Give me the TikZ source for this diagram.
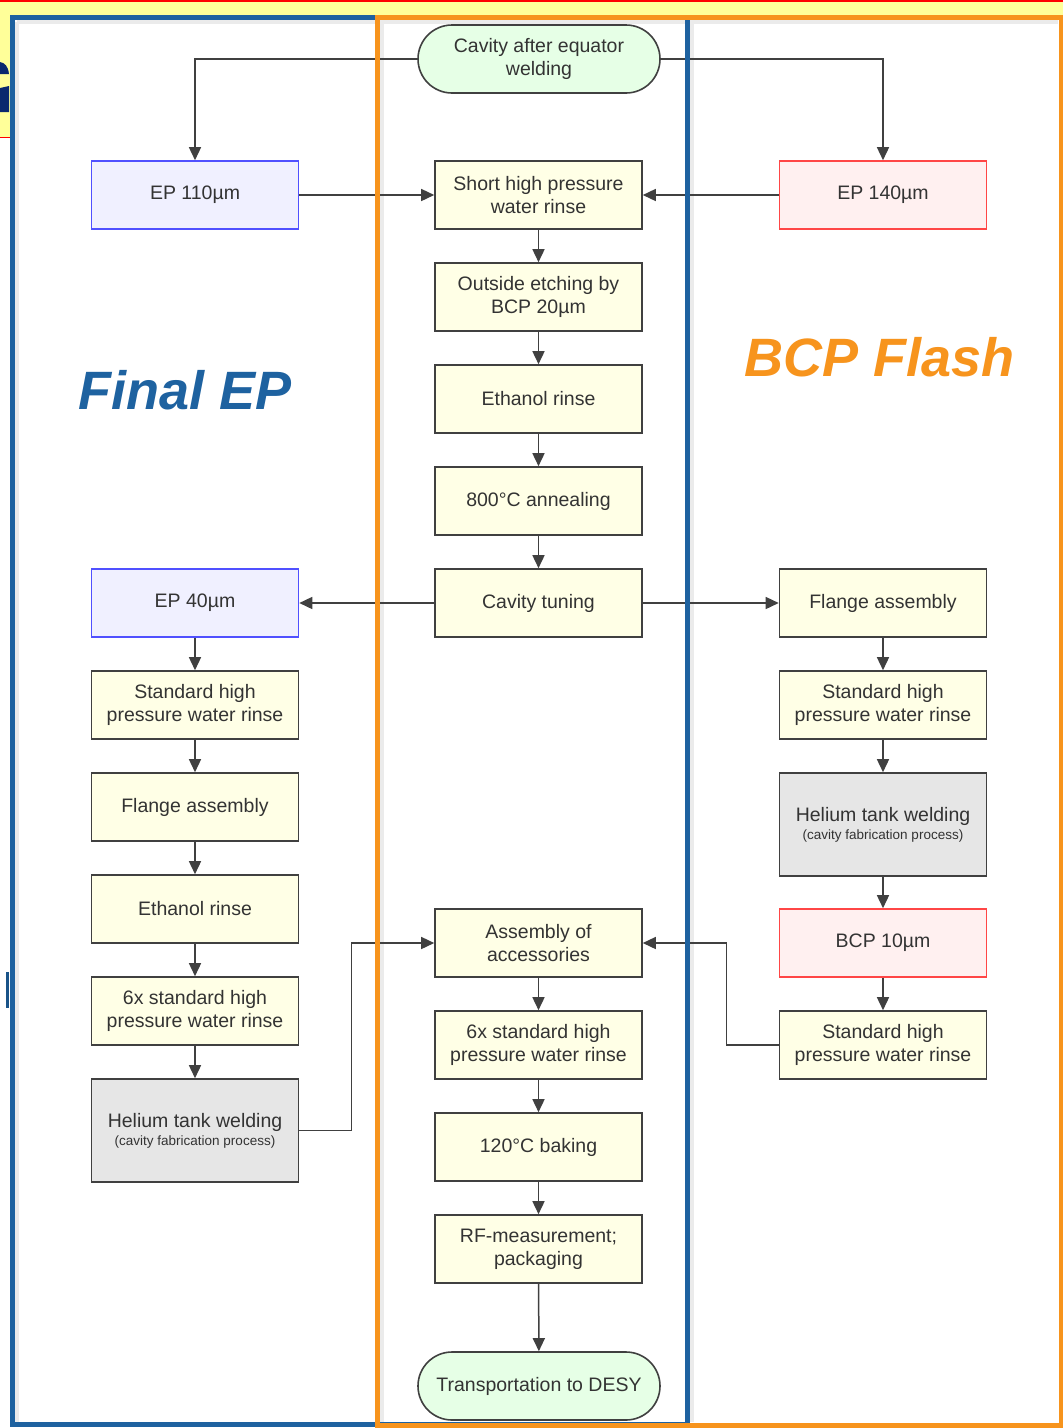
\documentclass[tikz,border=0pt]{standalone}
\usepackage{fontspec}
\setmainfont{Liberation Sans}
\usetikzlibrary{arrows.meta, positioning}

\definecolor{laneblue}{RGB}{30,98,160}
\definecolor{laneorange}{RGB}{247,148,29}
\definecolor{boxline}{RGB}{64,64,64}
\definecolor{boxtext}{RGB}{51,51,51}
\definecolor{stepfill}{RGB}{255,255,230}
\definecolor{epfill}{RGB}{240,240,255}
\definecolor{epline}{RGB}{80,80,255}
\definecolor{bcpfill}{RGB}{255,240,240}
\definecolor{bcpline}{RGB}{255,70,70}
\definecolor{weldfill}{RGB}{230,230,230}
\definecolor{termfill}{RGB}{230,255,230}
\definecolor{slideyellow}{RGB}{255,255,153}
\definecolor{slidenavy}{RGB}{10,40,110}

\newcommand{\boxfont}{\fontsize{19.5}{23}\selectfont}
\newcommand{\notefont}{\fontsize{13.5}{17}\selectfont}
\newcommand{\titlefont}{\fontsize{54}{54}\selectfont\bfseries\itshape}

\begin{document}
\begin{tikzpicture}[x=1pt, y=-1pt,
      every node/.style={text=boxtext, font=\boxfont},
      proc/.style={rectangle, draw=boxline, line width=1.6pt, fill=stepfill, minimum width=207pt, minimum height=68pt, align=center, inner sep=2pt},
      ep/.style={proc, draw=epline, fill=epfill},
      bcp/.style={proc, draw=bcpline, fill=bcpfill},
      weld/.style={proc, fill=weldfill, minimum height=103pt},
      term/.style={proc, fill=termfill, minimum width=242pt, rounded corners=34pt},
      flow/.style={-{Triangle[length=13pt, width=12pt]}, draw=boxline, line width=1.5pt},
      lane/.style={line width=5pt},
      shade/.style={black!8, line width=4pt}]

  \useasboundingbox (0,0) rectangle (1063,1428);

  % slide behind the chart
  \fill[slideyellow] (0,0) rectangle (1063,137);
  \draw[red, line width=1.5pt] (0,0.75) -- (1063,0.75);
  \draw[red, line width=1pt] (0,137) -- (14,137);
  \fill[slidenavy] (0,62) .. controls (5,63) and (8,66) .. (9,74) -- (0,74) -- cycle;
  \fill[slidenavy] (0,88) -- (9,86) -- (9,112) -- (0,112) -- cycle;
  \fill[laneblue!85!black] (6,972) rectangle (9,1008);
  \fill[white] (12,17) rectangle (1061,1425);

  % soft shadow of the lanes
  \draw[shade] (16.5,21.5) -- (16.5,1422);
  \draw[shade] (691.5,21.5) -- (691.5,1422);
  \draw[shade] (382,21.5) -- (382,1422);
  \draw[shade] (16.5,21.5) -- (1058,21.5);

  % centre column
  \node[term] (start) at (539,59) {Cavity after equator\\welding};
  \node[proc] (shortrinse) at (538.5,195) {Short high pressure\\water rinse};
  \node[proc] (outside) at (538.5,297) {Outside etching by\\BCP 20µm};
  \node[proc] (ethanol) at (538.5,399) {Ethanol rinse};
  \node[proc] (anneal) at (538.5,501) {800°C annealing};
  \node[proc] (tuning) at (538.5,603) {Cavity tuning};
  \node[proc] (accessory) at (538.5,943) {Assembly of\\accessories};
  \node[proc] (sixrinse) at (538.5,1045) {6x standard high\\pressure water rinse};
  \node[proc] (baking) at (538.5,1147) {120°C baking};
  \node[proc] (rfmeas) at (538.5,1249) {RF-measurement;\\packaging};
  \node[term] (transport) at (539,1386) {Transportation to DESY};

  % final EP column
  \node[ep] (epA) at (195,195) {EP 110µm};
  \node[ep] (epB) at (195,603) {EP 40µm};
  \node[proc] (rinseL) at (195,705) {Standard high\\pressure water rinse};
  \node[proc] (flangeL) at (195,807) {Flange assembly};
  \node[proc] (ethanolL) at (195,909) {Ethanol rinse};
  \node[proc] (sixrinseL) at (195,1011) {6x standard high\\pressure water rinse};
  \node[weld] (weldL) at (195,1130.5) {Helium tank welding\\[-5pt]{\notefont (cavity fabrication process)}};

  % BCP flash column
  \node[bcp] (epC) at (883,195) {EP 140µm};
  \node[proc] (flangeR) at (883,603) {Flange assembly};
  \node[proc] (rinseR) at (883,705) {Standard high\\pressure water rinse};
  \node[weld] (weldR) at (883,824.5) {Helium tank welding\\[-5pt]{\notefont (cavity fabrication process)}};
  \node[bcp] (bcpB) at (883,943) {BCP 10µm};
  \node[proc] (rinseR2) at (883,1045) {Standard high\\pressure water rinse};

  % Arrows
  \draw[flow] (start.west) -| (epA.north);
  \draw[flow] (start.east) -| (epC.north);
  \draw[flow] (epA) -- (shortrinse);
  \draw[flow] (epC) -- (shortrinse);
  \draw[flow] (tuning) -- (epB);
  \draw[flow] (tuning) -- (flangeR);
  \foreach \a/\b in {shortrinse/outside, outside/ethanol, ethanol/anneal, anneal/tuning,
                     accessory/sixrinse, sixrinse/baking, baking/rfmeas, rfmeas/transport,
                     epB/rinseL, rinseL/flangeL, flangeL/ethanolL, ethanolL/sixrinseL, sixrinseL/weldL,
                     flangeR/rinseR, rinseR/weldR, weldR/bcpB, bcpB/rinseR2} {
    \draw[flow] (\a) -- (\b);
  }
  \draw[flow] (weldL.east) -- ++(52,0) |- (accessory.west);
  \draw[flow] (rinseR2.west) -- ++(-52,0) |- (accessory.east);

  % lanes
  \draw[lane, laneblue] (12,17) rectangle (687,1424);
  \draw[lane, laneorange] (377.5,17.5) rectangle (1061,1425);

  \node[font=\titlefont, text=laneblue] (finalep) at (185,390) {Final EP};
  \node[font=\titlefont, text=laneorange] (bcpflash) at (880,357) {BCP Flash};
\end{tikzpicture}
\end{document}
